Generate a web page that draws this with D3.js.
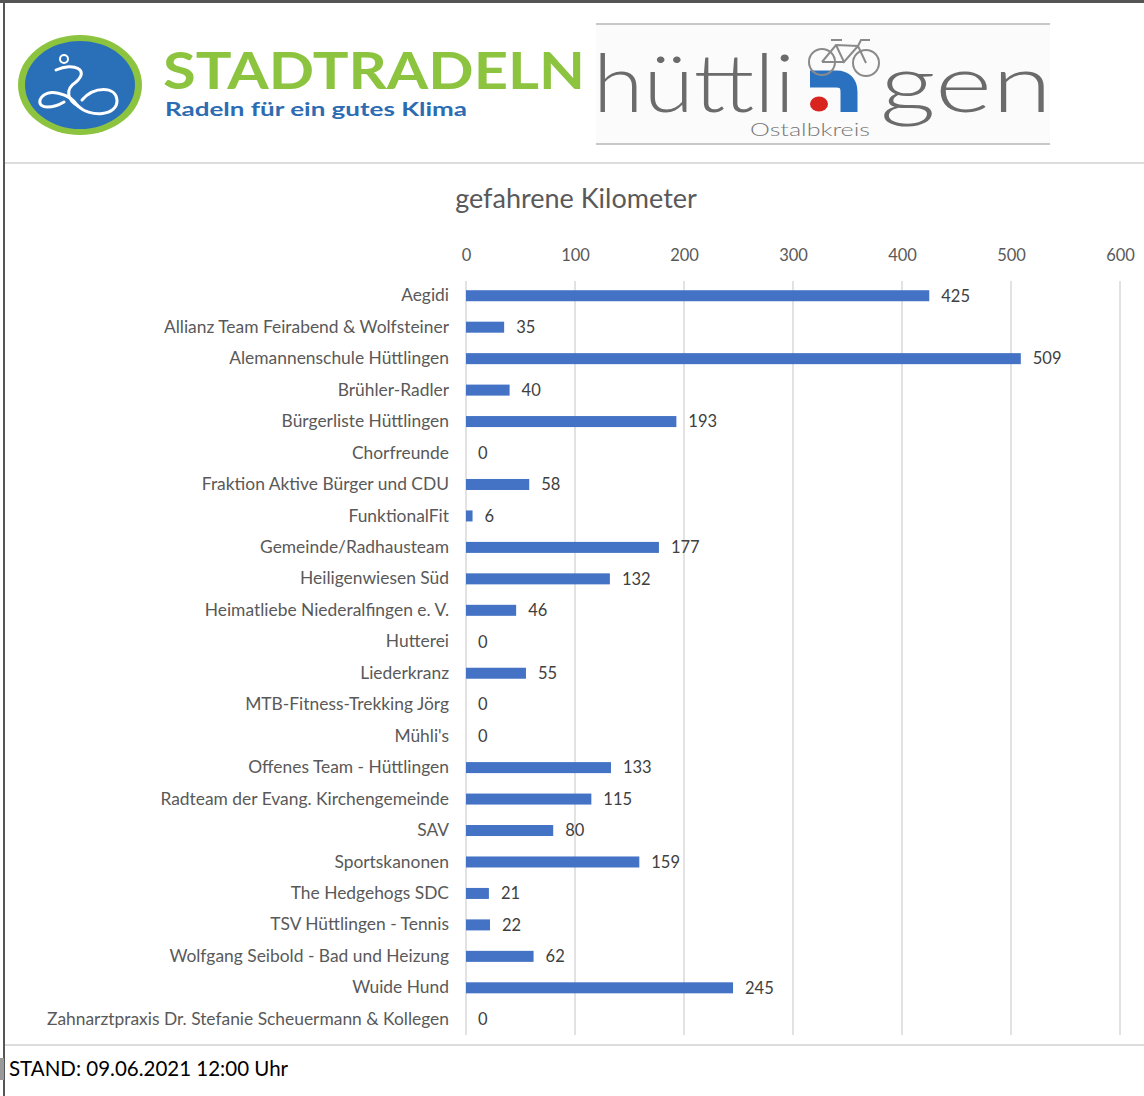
<!DOCTYPE html>
<html>
<head>
<meta charset="utf-8">
<script src="https://cdn.jsdelivr.net/npm/d3@7"></script>
<style>
    body { margin: 0; background: #fff; }
    text { font-family: Lato, "Open Sans", sans-serif; }
</style>
</head>
<body>
<div id="chart"></div>
<script>
var categories = [
    "Aegidi",
    "Allianz Team Feirabend & Wolfsteiner",
    "Alemannenschule Hüttlingen",
    "Brühler-Radler",
    "Bürgerliste Hüttlingen",
    "Chorfreunde",
    "Fraktion Aktive Bürger und CDU",
    "FunktionalFit",
    "Gemeinde/Radhausteam",
    "Heiligenwiesen Süd",
    "Heimatliebe Niederalfingen e. V.",
    "Hutterei",
    "Liederkranz",
    "MTB-Fitness-Trekking Jörg",
    "Mühli's",
    "Offenes Team - Hüttlingen",
    "Radteam der Evang. Kirchengemeinde",
    "SAV",
    "Sportskanonen",
    "The Hedgehogs SDC",
    "TSV Hüttlingen - Tennis",
    "Wolfgang Seibold - Bad und Heizung",
    "Wuide Hund",
    "Zahnarztpraxis Dr. Stefanie Scheuermann & Kollegen"
];
var kilometers = [425, 35, 509, 40, 193, 0, 58, 6, 177, 132, 46, 0, 55, 0, 0, 133, 115, 80, 159, 21, 22, 62, 245, 0];
var xTicks = [0, 100, 200, 300, 400, 500, 600];
var chartTitle = "gefahrene Kilometer";
var footerText = "STAND: 09.06.2021 12:00 Uhr";

function init() {
    var w = 1144;
    var h = 1096;

    var svg = d3.select("#chart")
        .append("svg")
        .attr("width", w)
        .attr("height", h);

    // page frame
    svg.append("rect").attr("x", 0).attr("y", 0).attr("width", w).attr("height", 3).attr("fill", "#555");
    svg.append("rect").attr("x", 3).attr("y", 0).attr("width", 2).attr("height", h).attr("fill", "#555");
    svg.append("rect").attr("x", 0).attr("y", 1058).attr("width", 4).attr("height", 22).attr("fill", "#999");
    svg.append("line").attr("x1", 5).attr("x2", w).attr("y1", 163).attr("y2", 163)
        .attr("stroke", "#dcdcdc").attr("stroke-width", 2);
    svg.append("line").attr("x1", 5).attr("x2", w).attr("y1", 1045).attr("y2", 1045)
        .attr("stroke", "#dcdcdc").attr("stroke-width", 2);

    // Stadtradeln logo
    var logo = svg.append("g");
    logo.append("ellipse").attr("cx", 80).attr("cy", 85).attr("rx", 62).attr("ry", 50).attr("fill", "#8cc43f");
    logo.append("ellipse").attr("cx", 80).attr("cy", 85).attr("rx", 55).attr("ry", 44).attr("fill", "#2a70b8");
    var rider = logo.append("g").attr("fill", "none").attr("stroke", "#fff").attr("stroke-width", 3)
        .attr("stroke-linecap", "round");
    rider.append("circle").attr("cx", 64).attr("cy", 59).attr("r", 4).attr("stroke-width", 2);
    rider.append("path").attr("d", "M 56 70 C 74 62, 90 70, 76 82 C 64 90, 68 100, 78 106");
    rider.append("path").attr("d", "M 78 106 C 70 94, 46 86, 40 100 C 38 110, 54 108, 64 102");
    rider.append("path").attr("d", "M 78 106 C 90 118, 118 116, 117 100 C 116 86, 94 86, 82 100");

    logo.append("text")
        .attr("x", 163).attr("y", 89)
        .attr("textLength", 422)
        .attr("lengthAdjust", "spacingAndGlyphs")
        .attr("font-size", 52)
        .attr("font-weight", "bold")
        .attr("fill", "#8cc43f")
        .text("STADTRADELN");
    logo.append("text")
        .attr("x", 165).attr("y", 116)
        .attr("textLength", 302)
        .attr("lengthAdjust", "spacingAndGlyphs")
        .attr("font-size", 19)
        .attr("font-weight", "bold")
        .attr("fill", "#2d6cb3")
        .text("Radeln für ein gutes Klima");

    // Hüttlingen logo
    var hl = svg.append("g");
    hl.append("rect").attr("x", 596).attr("y", 23).attr("width", 454).attr("height", 121).attr("fill", "#fbfbfb");
    hl.append("line").attr("x1", 596).attr("x2", 1050).attr("y1", 24).attr("y2", 24).attr("stroke", "#c8c8c8").attr("stroke-width", 2);
    hl.append("line").attr("x1", 596).attr("x2", 1050).attr("y1", 144).attr("y2", 144).attr("stroke", "#c8c8c8").attr("stroke-width", 2);
    hl.append("text")
        .attr("x", 593).attr("y", 112)
        .attr("textLength", 202)
        .attr("lengthAdjust", "spacingAndGlyphs")
        .attr("font-size", 80)
        .attr("font-weight", 300)
        .attr("fill", "#6b6b6b")
        .text("hüttli");
    hl.append("text")
        .attr("x", 880).attr("y", 112)
        .attr("textLength", 172)
        .attr("lengthAdjust", "spacingAndGlyphs")
        .attr("font-size", 80)
        .attr("font-weight", 300)
        .attr("fill", "#6b6b6b")
        .text("gen");
    hl.append("path")
        .attr("d", "M 810 79 L 836 79 Q 849 79 849 92 L 849 112")
        .attr("fill", "none").attr("stroke", "#2a72c0").attr("stroke-width", 17);
    hl.append("ellipse").attr("cx", 819).attr("cy", 104).attr("rx", 9).attr("ry", 7.5).attr("fill", "#d8231f");
    var bike = hl.append("g").attr("fill", "none").attr("stroke", "#8a8a8a").attr("stroke-width", 2);
    bike.append("circle").attr("cx", 822).attr("cy", 62).attr("r", 13);
    bike.append("circle").attr("cx", 866).attr("cy", 63).attr("r", 13);
    bike.append("path").attr("d", "M 822 62 L 836 45 L 858 46 L 866 63 M 836 45 L 844 62 L 858 46 M 822 62 L 844 62 M 831 40 L 842 40 M 858 46 L 861 40 L 870 40");
    hl.append("text")
        .attr("x", 810).attr("y", 136)
        .attr("text-anchor", "middle")
        .attr("textLength", 120)
        .attr("lengthAdjust", "spacingAndGlyphs")
        .attr("font-size", 18)
        .attr("font-weight", 300)
        .attr("fill", "#777")
        .text("Ostalbkreis");

    // chart
    var xScale = d3.scaleLinear()
        .domain([0, 600])
        .range([466, 1120]);

    var yScale = d3.scaleBand()
        .domain(categories)
        .range([280, 1035])
        .paddingInner(0.65)
        .paddingOuter(0.325);

    svg.append("text")
        .attr("x", 576)
        .attr("y", 208)
        .attr("text-anchor", "middle")
        .attr("font-size", 27)
        .attr("fill", "#595959")
        .text(chartTitle);

    // gridlines
    svg.append("g")
        .selectAll("line")
        .data(xTicks)
        .enter()
        .append("line")
        .attr("x1", function(d) { return xScale(d); })
        .attr("x2", function(d) { return xScale(d); })
        .attr("y1", 281)
        .attr("y2", 1035)
        .attr("stroke", "#d9d9d9")
        .attr("stroke-width", 1.5);

    var xAxis = d3.axisTop(xScale)
        .tickValues(xTicks)
        .tickSize(0)
        .tickPadding(0);

    var gx = svg.append("g")
        .attr("transform", "translate(0,261)")
        .call(xAxis);
    gx.select(".domain").remove();
    gx.selectAll("text")
        .attr("font-family", "Lato, sans-serif")
        .attr("font-size", 16.5)
        .attr("fill", "#595959");

    var yAxis = d3.axisLeft(yScale)
        .tickSize(0)
        .tickPadding(0);

    var gy = svg.append("g")
        .attr("transform", "translate(449,0)")
        .call(yAxis);
    gy.select(".domain").remove();
    gy.selectAll("text")
        .attr("font-family", "Lato, sans-serif")
        .attr("font-size", 17.4)
        .attr("fill", "#595959");

    svg.selectAll("rect.bar")
        .data(kilometers)
        .enter()
        .append("rect")
        .attr("class", "bar")
        .attr("x", xScale(0))
        .attr("y", function(d, i) { return yScale(categories[i]); })
        .attr("width", function(d) { return xScale(d) - xScale(0); })
        .attr("height", yScale.bandwidth())
        .attr("fill", "#4472c4");

    svg.selectAll("text.val")
        .data(kilometers)
        .enter()
        .append("text")
        .attr("class", "val")
        .attr("x", function(d) { return xScale(d) + 12; })
        .attr("y", function(d, i) { return yScale(categories[i]) + yScale.bandwidth() / 2; })
        .attr("dy", "0.35em")
        .attr("font-size", 16.5)
        .attr("fill", "#404040")
        .text(function(d) { return d; });

    svg.append("text")
        .attr("x", 9)
        .attr("y", 1069)
        .attr("dy", "0.35em")
        .attr("font-size", 20.5)
        .attr("fill", "#000")
        .text(footerText);
}

window.onload = init;
</script>
</body>
</html>
